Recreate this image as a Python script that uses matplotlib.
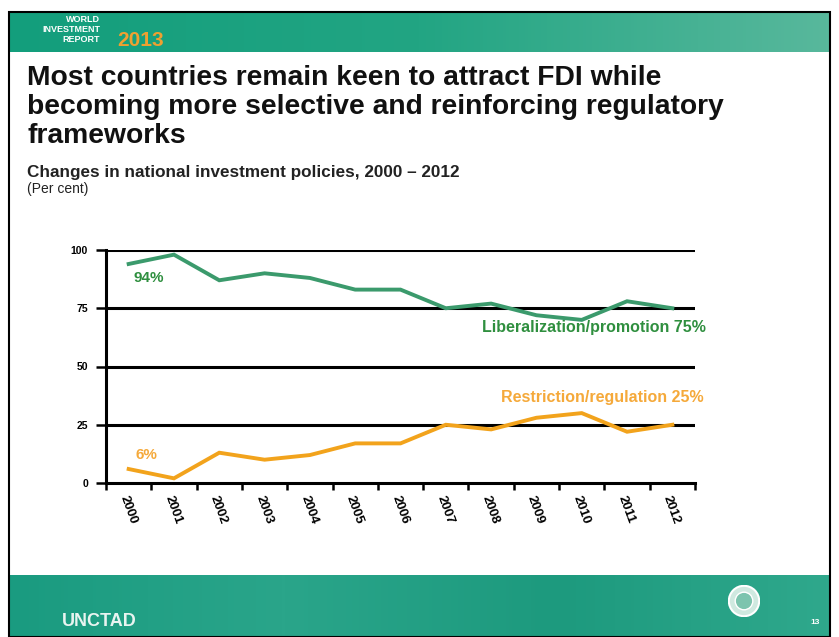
import matplotlib
matplotlib.use("Agg")
import matplotlib.pyplot as plt
import numpy as np
from matplotlib.patches import Rectangle, Circle
from matplotlib.ticker import FixedLocator
from matplotlib.colors import LinearSegmentedColormap

plt.rcParams['font.family'] = ['Liberation Sans', 'DejaVu Sans']

years = ["2000", "2001", "2002", "2003", "2004", "2005", "2006",
         "2007", "2008", "2009", "2010", "2011", "2012"]
liberalization = [94, 98, 87, 90, 88, 83, 83, 75, 77, 72, 70, 78, 75]
restriction = [6, 2, 13, 10, 12, 17, 17, 25, 23, 28, 30, 22, 25]

green_line = "#3b9a6c"
green_text = "#2f8f3f"
orange_line = "#f2a31c"
orange_text = "#f5a93a"

W, H = 839, 637
fig = plt.figure(figsize=(W / 100, H / 100), dpi=100)

def fx(px):
    return px / W

def fy(py):
    return 1 - py / H

# slide frame
fig.patches.append(Rectangle((fx(9), fy(637)), fx(830 - 9), fy(12) - fy(637),
                             transform=fig.transFigure, fill=False,
                             edgecolor="black", lw=1.5))

grad = np.linspace(0, 1, 256).reshape(1, -1)

# header band
hdr = fig.add_axes([fx(10), fy(52), fx(829 - 10), fy(13) - fy(52)])
hdr_cmap = LinearSegmentedColormap.from_list("hdr", ["#139e7c", "#22a583", "#58b89c"])
hdr.imshow(grad, aspect="auto", cmap=hdr_cmap, extent=[0, 1, 0, 1])
hdr.set_axis_off()
for i, word in enumerate(["WORLD", "INVESTMENT", "REPORT"]):
    fig.text(fx(100), fy(19 + i * 10), word, color="white", fontsize=6.5,
             fontweight="bold", ha="right", va="center")
fig.text(fx(117), fy(40), "2013", color="#f0a030", fontsize=15,
         fontweight="bold", ha="left", va="center")

# footer band
ftr = fig.add_axes([fx(10), 0, fx(829 - 10), fy(575)])
ftr_cmap = LinearSegmentedColormap.from_list("ftr", ["#1a9b80", "#2aa58a", "#1d9a7e", "#2fa88c"])
ftr.imshow(grad, aspect="auto", cmap=ftr_cmap, extent=[0, 1, 0, 1])
ftr.set_axis_off()
fig.text(fx(62), fy(622), "UNCTAD", color="#e8f4f0", fontsize=13,
         fontweight="bold", ha="left", va="center")
fig.text(fx(810), fy(623), "13", color="white", fontsize=6,
         fontweight="bold", ha="left", va="center")
emb = fig.add_axes([fx(728), fy(617), fx(32), fy(585) - fy(617)])
emb.set_xlim(-1, 1)
emb.set_ylim(-1, 1)
emb.set_aspect("equal")
emb.add_patch(Circle((0, 0), 0.95, facecolor="#cfe9e0", edgecolor="white", lw=1.5))
emb.add_patch(Circle((0, 0), 0.55, facecolor="#7cc4ae", edgecolor="white", lw=1))
emb.set_axis_off()

# titles
title = ("Most countries remain keen to attract FDI while\n"
         "becoming more selective and reinforcing regulatory\n"
         "frameworks")
fig.text(fx(27), fy(65), title, fontsize=20.3, fontweight="bold", ha="left",
         va="top", linespacing=1.16, color="#111111")
fig.text(fx(27), fy(172), "Changes in national investment policies, 2000 \u2013 2012",
         fontsize=12.3, fontweight="bold", ha="left", va="center", color="#222222")
fig.text(fx(27), fy(189), "(Per cent)", fontsize=10, ha="left", va="center",
         color="#222222")

# chart
ax = fig.add_axes([fx(106), fy(483), fx(695) - fx(106), fy(250) - fy(483)])
x = np.arange(len(years))
for level in [25, 50, 75, 100]:
    ax.axhline(level, color="black", lw=2.2, zorder=1)
ax.plot(x, liberalization, color=green_line, lw=2.8, zorder=3,
        solid_joinstyle="miter")
ax.plot(x, restriction, color=orange_line, lw=2.8, zorder=3,
        solid_joinstyle="miter")

ax.set_xlim(-0.5, len(years) - 0.5)
ax.set_ylim(0, 100)
ax.set_yticks([0, 25, 50, 75, 100])
ax.set_yticklabels(["0", "25", "50", "75", "100"], fontsize=7.5, fontweight="bold")
ax.set_xticks(x)
ax.set_xticklabels(years, rotation=-70, ha="left", va="top",
                   rotation_mode="anchor", fontsize=9.5, fontweight="bold")
ax.xaxis.set_minor_locator(FixedLocator(np.arange(-0.5, len(years), 1.0)))
ax.tick_params(axis="x", which="major", length=0, pad=8)
ax.tick_params(axis="x", which="minor", length=5, width=1.8, direction="out")
ax.tick_params(axis="y", length=7, width=1.8, direction="out", pad=6)
for s in ["top", "right"]:
    ax.spines[s].set_visible(False)
for s in ["left", "bottom"]:
    ax.spines[s].set_linewidth(2.2)
    ax.spines[s].set_zorder(4)
ax.patch.set_alpha(0)

ax.text(0.1, liberalization[0] - 3, f"{liberalization[0]}%", color=green_text,
        fontsize=11, fontweight="bold", ha="left", va="top")
ax.text(0.15, restriction[0] + 3, f"{restriction[0]}%", color=orange_text,
        fontsize=11, fontweight="bold", ha="left", va="bottom")
ax.text(12.75, liberalization[-1] - 5,
        f"Liberalization/promotion {liberalization[-1]}%", color=green_text,
        fontsize=11.5, fontweight="bold", ha="right", va="top", clip_on=False)
ax.text(12.7, restriction[-1] + 8.5,
        f"Restriction/regulation {restriction[-1]}%", color=orange_text,
        fontsize=11.5, fontweight="bold", ha="right", va="bottom", clip_on=False)

fig.savefig("out.png", dpi=100)
